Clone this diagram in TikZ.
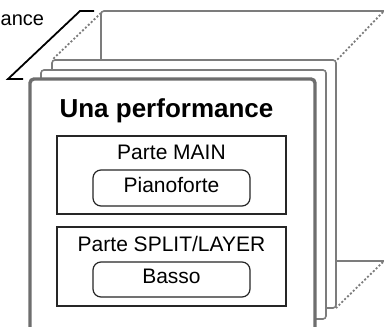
\documentclass[tikz,border=0pt]{standalone}
\usepackage{fontspec}
\setmainfont{Liberation Sans}
\usetikzlibrary{positioning}

\definecolor{framegray}{HTML}{6E6E6E}
\definecolor{layergray}{HTML}{7C7C7C}

\tikzset{
    layer/.style={draw=layergray, line width=1.6pt, fill=white, rounded corners=3pt},
    frontlayer/.style={draw=framegray, line width=3.4pt, fill=white, rounded corners=4pt},
    depthline/.style={draw=layergray, line width=1.8pt, dash pattern=on 2pt off 2pt},
    partbox/.style={draw=black!85, line width=2.4pt, minimum width=229pt, minimum height=78pt, inner sep=0pt},
    soundbox/.style={draw=black!85, line width=1.2pt, rounded corners=8pt, minimum width=157pt,
        minimum height=36pt, text height=15pt, text depth=7pt, inner sep=0pt},
    txt/.style={font=\fontsize{21}{25}\selectfont, inner sep=0pt}
}

\begin{document}
\begin{tikzpicture}[x=1pt, y=-1pt]
    \useasboundingbox (0,0) rectangle (384,327);
    \clip (0,0) rectangle (384,327);

    % stacked performances, back to front
    \draw[layer] (101,11) rectangle (400,261);
    \draw[depthline] (101,13) -- (52,60);
    \draw[depthline] (383,12) -- (336,61);
    \draw[depthline] (383,262) -- (336,308);
    \draw[layer] (52,60) rectangle (336,308);
    \draw[layer] (41,70) rectangle (326,319);
    \draw[frontlayer] (30,79) rectangle (315,345);

    % bracket on the left
    \draw[black, line width=1.8pt] (23,79) -- (8,79) -- (80,11) -- (94,11);
    \node[txt, font=\fontsize{20}{24}\selectfont, anchor=base west] (allperf) at (0.5,25) {ance};

    % title
    \node[font=\fontsize{26}{30}\selectfont\bfseries, inner sep=0pt, anchor=base] (title) at (166.5,117) {Una performance};

    % MAIN part
    \node[partbox] (mainpart) at (171.5,175) {};
    \node[txt, anchor=base] (mainlabel) at (171.5,159) {Parte MAIN};
    \node[soundbox, txt] (piano) at (171.5,188) {Pianoforte};

    % SPLIT/LAYER part
    \node[partbox, minimum height=79pt] (splitpart) at (171.5,266.5) {};
    \node[txt, anchor=base] (splitlabel) at (171.5,251) {Parte SPLIT/LAYER};
    \node[soundbox, txt, minimum height=35pt] (bass) at (171.5,279.5) {Basso};
\end{tikzpicture}
\end{document}
